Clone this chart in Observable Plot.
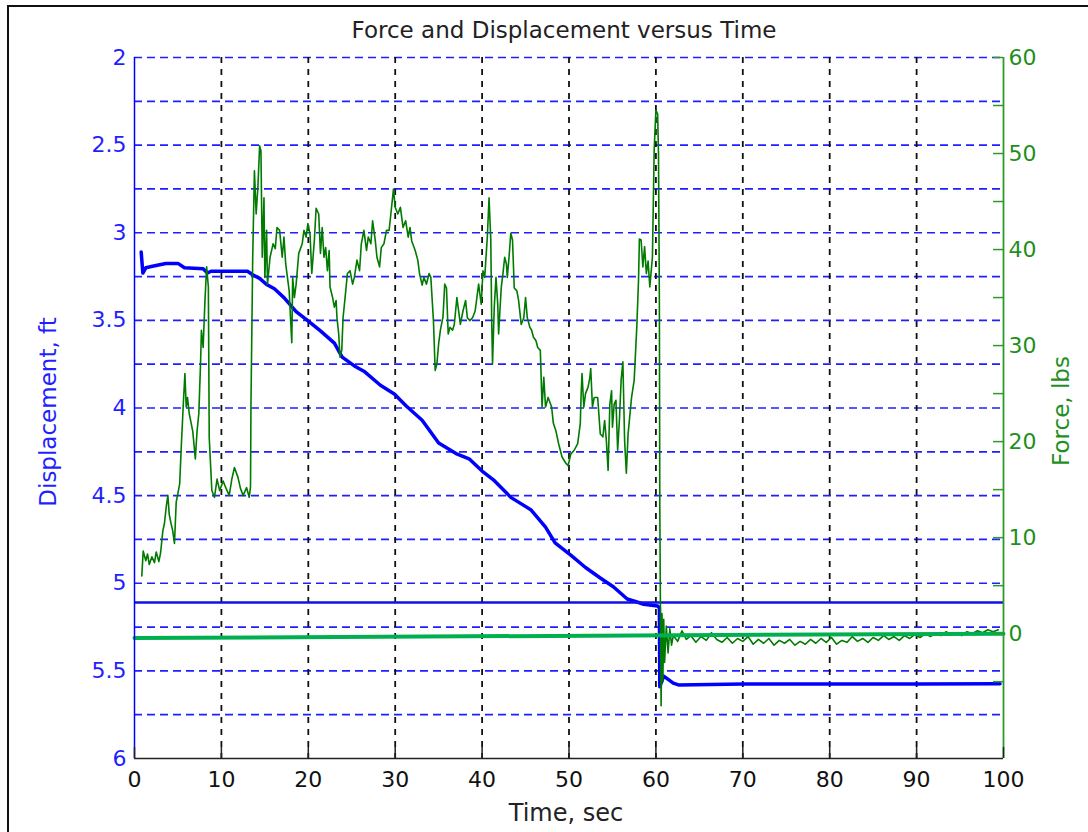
<!DOCTYPE html>
<html><head><meta charset="utf-8">
<script src="https://cdn.jsdelivr.net/npm/d3@7"></script>
<script src="https://cdn.jsdelivr.net/npm/@observablehq/plot@0.6"></script>
<style>
html,body{margin:0;padding:0;background:#fff;overflow:hidden;}
#wrap{position:relative;width:1088px;height:832px;overflow:hidden;}
#frame{position:absolute;left:7px;top:5px;width:1200px;height:1000px;border-left:2.5px solid #111;border-top:2.5px solid #111;pointer-events:none;}
</style></head><body><div id="wrap"><div id="chart"></div><div id="frame"></div></div>
<script>
const title = "Force and Displacement versus Time";
const xLabel = "Time, sec";
const yLeftLabel = "Displacement, ft";
const yRightLabel = "Force, lbs";

const timeTicks = [0, 10, 20, 30, 40, 50, 60, 70, 80, 90, 100];
const dispTicks = [2, 2.5, 3, 3.5, 4, 4.5, 5, 5.5, 6];
const dispGrid = [2, 2.25, 2.5, 2.75, 3, 3.25, 3.5, 3.75, 4, 4.25, 4.5, 4.75, 5, 5.25, 5.5, 5.75];
const forceTicks = [-5, 0, 5, 10, 15, 20, 25, 30, 35, 40, 45, 50, 55, 60];
const forceLabels = [0, 10, 20, 30, 40, 50, 60];
const dispDomain = [2, 6];
const forceDomain = [-13, 60];

const dispTime = [0.77, 0.96, 1.3, 2.2, 3.6, 5.0, 5.75, 7.9, 8.4, 8.8, 13.0, 13.6, 14.4, 15.2, 16.1, 17.2, 18.6, 19.9, 21.4, 23.0, 23.9, 25.3, 26.4, 28.3, 29.9, 31.3, 33.1, 35.0, 37.0, 38.5, 40.0, 41.3, 43.3, 45.6, 47.3, 48.4, 50.2, 51.9, 53.6, 55.1, 56.7, 58.0, 58.6, 60.2, 60.4, 60.45, 60.9, 62.0, 62.6, 70, 80, 90, 99.6];
const dispFt = [3.11, 3.23, 3.20, 3.19, 3.175, 3.175, 3.20, 3.205, 3.23, 3.22, 3.22, 3.24, 3.26, 3.295, 3.32, 3.37, 3.45, 3.50, 3.56, 3.63, 3.71, 3.76, 3.79, 3.87, 3.92, 3.99, 4.07, 4.20, 4.26, 4.29, 4.36, 4.41, 4.51, 4.58, 4.68, 4.77, 4.84, 4.91, 4.97, 5.02, 5.09, 5.11, 5.12, 5.13, 5.14, 5.59, 5.53, 5.57, 5.58, 5.575, 5.575, 5.575, 5.574];

const forceTime = [0.84, 1.0, 1.3, 1.5, 1.7, 2.0, 2.3, 2.5, 2.8, 3.0, 3.26, 3.45, 3.65, 3.84, 4.0, 4.2, 4.4, 4.6, 4.8, 5.2, 5.4, 5.6, 5.8, 5.95, 6.1, 6.3, 6.5, 6.7, 7.0, 7.2, 7.4, 7.6, 7.7, 7.9, 8.1, 8.3, 8.5, 8.6, 8.9, 9.2, 9.5, 9.8, 10.2, 10.5, 10.9, 11.2, 11.5, 11.9, 12.2, 12.5, 12.9, 13.2, 13.35, 13.4, 13.6, 13.8, 14.0, 14.2, 14.4, 14.55, 14.7, 14.9, 15.0, 15.2, 15.3, 15.6, 15.95, 16.2, 16.4, 16.7, 17.0, 17.2, 17.4, 17.6, 17.8, 17.95, 18.1, 18.2, 18.4, 18.6, 18.9, 19.3, 19.5, 19.75, 19.95, 20.2, 20.4, 20.7, 20.9, 21.2, 21.4, 21.6, 21.8, 22.0, 22.2, 22.4, 22.5, 22.8, 23.0, 23.2, 23.3, 23.5, 23.65, 23.85, 24.0, 24.2, 24.5, 24.8, 25.1, 25.3, 25.6, 25.9, 26.1, 26.4, 26.7, 26.9, 27.2, 27.4, 27.7, 27.9, 28.2, 28.4, 28.7, 29.0, 29.3, 29.5, 29.8, 30.0, 30.3, 30.6, 30.9, 31.2, 31.5, 31.7, 31.9, 32.3, 32.6, 32.8, 33.1, 33.3, 33.6, 33.9, 34.1, 34.4, 34.6, 34.8, 35.0, 35.2, 35.5, 35.7, 35.9, 36.1, 36.3, 36.6, 36.8, 37.1, 37.3, 37.5, 37.8, 38.1, 38.3, 38.6, 38.9, 39.2, 39.4, 39.6, 39.9, 40.1, 40.3, 40.4, 40.6, 40.8, 41.0, 41.1, 41.2, 41.4, 41.6, 41.8, 41.9, 42.2, 42.4, 42.6, 42.8, 42.9, 43.1, 43.3, 43.5, 43.7, 44.0, 44.2, 44.5, 44.8, 45.0, 45.2, 45.5, 45.7, 45.9, 46.2, 46.4, 46.7, 46.9, 47.1, 47.3, 47.6, 48.0, 48.2, 48.5, 48.8, 49.2, 49.6, 49.9, 50.2, 50.6, 51.0, 51.3, 51.4, 51.5, 51.7, 51.9, 52.2, 52.4, 52.5, 52.7, 52.9, 53.3, 53.6, 53.9, 54.1, 54.3, 54.5, 54.7, 54.9, 55.0, 55.2, 55.4, 55.6, 55.8, 56.0, 56.2, 56.4, 56.6, 56.8, 57.2, 57.5, 57.8, 58.0, 58.1, 58.3, 58.5, 58.7, 58.9, 59.1, 59.3, 59.5, 59.6, 59.8, 60.0, 60.2, 60.3, 60.4, 60.45, 60.5, 60.6, 60.7, 60.8, 60.9, 61.0, 61.2, 61.4, 61.6, 61.8, 62.0, 62.5, 63.0, 63.5, 64.0, 64.6, 65.2, 65.8, 66.4, 67.0, 67.6, 68.2, 68.8, 69.4, 70.0, 70.6, 71.2, 71.8, 72.4, 73.0, 73.6, 74.2, 74.8, 75.4, 76.0, 76.6, 77.2, 77.8, 78.4, 79.0, 79.6, 80.2, 80.8, 81.4, 82.0, 82.6, 83.2, 83.8, 84.4, 85.0, 85.6, 86.2, 86.8, 87.4, 88.0, 88.6, 89.2, 89.8, 90.4, 91.0, 91.6, 92.2, 92.8, 93.4, 94.0, 94.6, 95.2, 95.8, 96.4, 97.0, 97.6, 98.2, 98.8, 99.4];
const forceLbs = [6.0, 8.6, 7.6, 8.3, 7.2, 8.0, 7.4, 8.5, 7.5, 8.4, 10.7, 11.5, 13.2, 14.4, 12.4, 11.5, 10.7, 9.4, 13.7, 15.6, 19.8, 23.6, 27.1, 23.6, 24.6, 22.9, 22.0, 21.1, 18.2, 21.1, 22.9, 28.1, 31.6, 29.8, 34.5, 38.2, 36.1, 20.4, 14.9, 14.2, 16.1, 14.9, 15.9, 15.2, 14.4, 16.1, 17.3, 16.3, 15.1, 14.4, 15.2, 14.2, 15.3, 23.6, 39.0, 48.2, 43.7, 46.5, 50.8, 50.3, 39.2, 45.4, 37.1, 42.0, 36.4, 39.2, 40.6, 40.1, 42.3, 42.0, 39.2, 41.3, 38.5, 37.1, 35.7, 32.9, 30.3, 37.1, 35.0, 36.4, 39.6, 40.6, 42.0, 41.3, 42.7, 41.6, 37.5, 41.0, 44.3, 43.7, 39.6, 42.3, 39.2, 40.2, 37.8, 39.9, 36.1, 35.0, 34.0, 34.7, 32.9, 31.2, 28.8, 29.5, 32.9, 34.7, 37.5, 37.8, 36.4, 37.1, 38.9, 37.8, 40.6, 42.0, 39.9, 41.3, 40.6, 43.0, 41.0, 39.2, 38.2, 40.2, 40.6, 42.0, 42.0, 43.7, 46.3, 44.4, 43.7, 44.4, 42.3, 43.0, 41.3, 42.3, 40.9, 39.9, 38.9, 37.5, 36.3, 37.1, 36.4, 37.5, 37.1, 32.6, 27.4, 28.1, 30.2, 31.6, 33.0, 36.4, 36.0, 31.2, 31.9, 31.6, 32.2, 35.0, 33.6, 32.2, 33.6, 34.7, 32.9, 32.6, 32.9, 33.6, 35.0, 36.4, 34.3, 37.8, 37.1, 38.5, 41.3, 45.4, 41.0, 32.9, 28.1, 34.0, 37.1, 34.3, 31.2, 36.0, 37.5, 39.2, 38.5, 37.1, 39.2, 41.7, 41.0, 36.0, 35.7, 34.7, 32.2, 32.9, 35.0, 32.9, 31.9, 31.6, 30.9, 30.5, 29.8, 29.5, 23.6, 26.7, 23.6, 24.6, 23.6, 21.9, 21.1, 19.8, 18.4, 17.8, 17.5, 18.7, 19.1, 19.8, 21.9, 25.0, 27.1, 23.6, 25.0, 25.7, 26.7, 27.6, 23.6, 24.6, 24.6, 20.8, 20.5, 22.2, 20.1, 17.0, 23.9, 25.3, 21.5, 23.9, 24.3, 19.1, 22.2, 26.4, 28.3, 20.1, 16.7, 20.8, 24.6, 26.4, 31.9, 36.8, 41.1, 41.0, 38.2, 40.3, 37.5, 38.8, 36.1, 38.2, 39.2, 50.3, 54.5, 54.1, 49.9, 34.7, 13.2, 5.5, -7.5, 2.1, -5.0, 1.5, -3.0, 0.8, -2.0, 0.5, -1.2, -0.2, -0.8, 0.3, -0.6, -0.2, -0.9, -0.3, -0.7, 0.1, -0.6, -0.9, -0.4, -1.0, -0.5, -0.8, -0.3, -1.1, -0.6, -1.0, -0.5, -1.2, -0.7, -1.0, -0.6, -1.2, -0.8, -1.1, -0.6, -1.0, -0.5, -0.9, -0.4, -1.1, -0.7, -0.9, -0.3, -0.8, -0.5, -0.9, -0.4, -0.7, -0.2, -0.6, -0.3, -0.7, -0.2, -0.5, -0.1, -0.4, 0.0, -0.3, 0.1, -0.2, 0.2, -0.1, 0.1, -0.2, 0.2, 0.0, 0.3, 0.1, 0.4, 0.2, 0.4];

const dispRefLevel = 5.11;
const forceRefTime = [0, 100];
const forceRefLbs = [-0.45, 0];

// map force (right axis) into displacement (left axis) units
const toDisp = f => dispDomain[1] - (f - forceDomain[0]) / (forceDomain[1] - forceDomain[0]) * (dispDomain[1] - dispDomain[0]);

const dispData = dispTime.map((t, i) => ({t, d: dispFt[i]}));
const forceData = forceTime.map((t, i) => ({t, f: forceLbs[i]}));
const refData = forceRefTime.map((t, i) => ({t, f: forceRefLbs[i]}));

const W = 1088, H = 832, mL = 134, mR = 85, mT = 57, mB = 74;
const frameW = W - mL - mR, frameH = H - mT - mB;
const blue = "#1f1fff", green = "#1f8f1f", axisGreen = "#2e9a2e";

const chart = Plot.plot({
  width: W, height: H,
  marginLeft: mL, marginRight: mR, marginTop: mT, marginBottom: mB,
  style: {fontFamily: "DejaVu Sans", background: "white", overflow: "visible"},
  x: {domain: [0, 100]},
  y: {domain: dispDomain, reverse: true},
  marks: [
    Plot.ruleY(dispGrid, {stroke: blue, strokeWidth: 1.7, strokeDasharray: "8,5"}),
    Plot.ruleX(timeTicks.filter(t => t > 0 && t < 100), {stroke: "#111", strokeWidth: 1.8, strokeDasharray: "6,6"}),
    Plot.line(dispData, {x: "t", y: "d", stroke: "#0000ff", strokeWidth: 3.5}),
    Plot.ruleY([dispRefLevel], {stroke: "#1010e8", strokeWidth: 2.5}),
    Plot.line(forceData, {x: "t", y: d => toDisp(d.f), stroke: "#007a00", strokeWidth: 1.6}),
    Plot.line(refData, {x: "t", y: d => toDisp(d.f), stroke: "#00b050", strokeWidth: 4}),
    Plot.ruleX([0], {stroke: "#0000ff", strokeWidth: 1.5}),
    Plot.ruleX([100], {stroke: axisGreen, strokeWidth: 1.8}),
    Plot.ruleY([dispDomain[1]], {stroke: "#222", strokeWidth: 1.5}),
    Plot.tickX(timeTicks, {x: d => d, stroke: "#222", strokeWidth: 1.5, insetTop: frameH - 11}),
    Plot.tickY(forceTicks, {y: toDisp, stroke: axisGreen, strokeWidth: 1.5, insetLeft: frameW - 10}),
    Plot.axisX(timeTicks, {tickSize: 0, tickPadding: 13, fontSize: 22, fill: "#111", label: null}),
    Plot.axisY(dispTicks, {anchor: "left", tickSize: 0, tickPadding: 8, fontSize: 22, fill: blue, label: null, tickFormat: d => String(d)}),
    Plot.text(forceLabels, {y: toDisp, text: d => String(d), frameAnchor: "right", dx: 5, textAnchor: "start", lineAnchor: "middle", fontSize: 22, fill: green}),
    Plot.text([title], {frameAnchor: "top", dy: -27, dx: -5, lineAnchor: "middle", textAnchor: "middle", fontSize: 23, fill: "#222"}),
    Plot.text([xLabel], {frameAnchor: "bottom", dy: 55, dx: -3, lineAnchor: "middle", textAnchor: "middle", fontSize: 24, fill: "#222"}),
    Plot.text([yLeftLabel], {frameAnchor: "left", dx: -86, dy: 4, rotate: -90, lineAnchor: "middle", textAnchor: "middle", fontSize: 23, fill: blue}),
    Plot.text([yRightLabel], {frameAnchor: "right", dx: 58, dy: 3, rotate: -90, lineAnchor: "middle", textAnchor: "middle", fontSize: 23, fill: green})
  ]
});
document.getElementById("chart").appendChild(chart);
</script>
</body></html>
